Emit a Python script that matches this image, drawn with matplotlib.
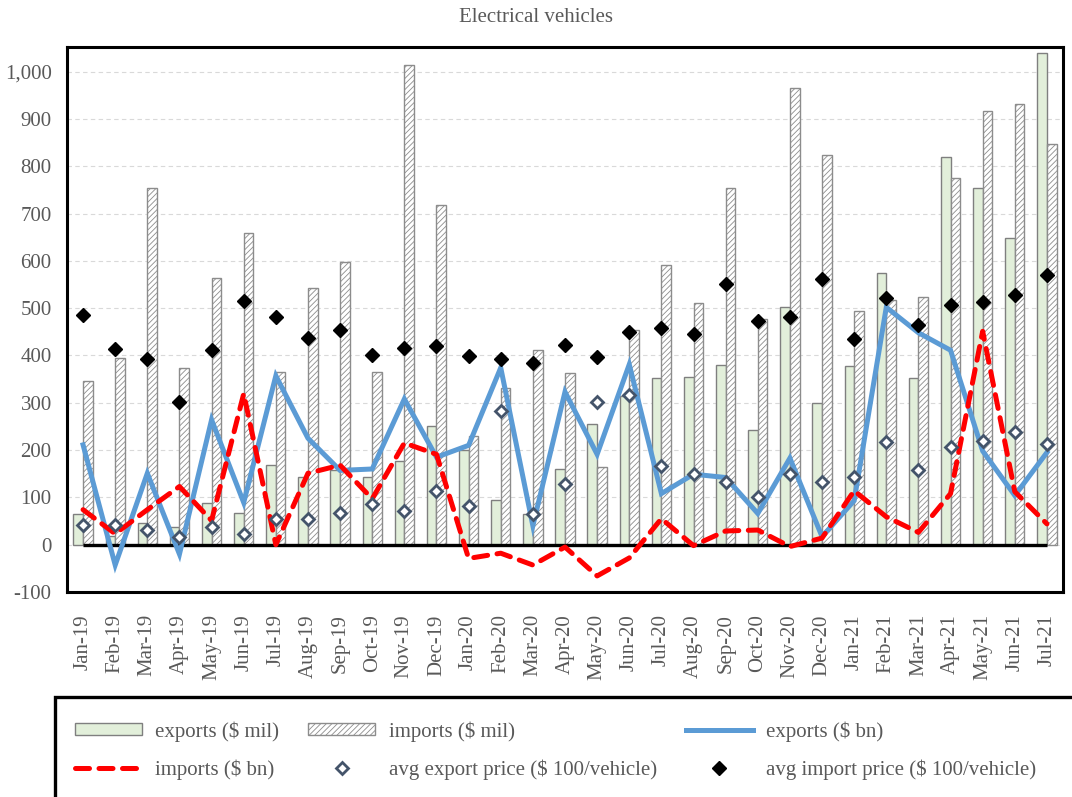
import matplotlib
matplotlib.use("Agg")
import matplotlib.pyplot as plt
import numpy as np
from matplotlib.lines import Line2D
from matplotlib.patches import Patch, Rectangle
from matplotlib.ticker import FuncFormatter, MultipleLocator

months = ["Jan-19", "Feb-19", "Mar-19", "Apr-19", "May-19", "Jun-19", "Jul-19", "Aug-19",
          "Sep-19", "Oct-19", "Nov-19", "Dec-19", "Jan-20", "Feb-20", "Mar-20", "Apr-20",
          "May-20", "Jun-20", "Jul-20", "Aug-20", "Sep-20", "Oct-20", "Nov-20", "Dec-20",
          "Jan-21", "Feb-21", "Mar-21", "Apr-21", "May-21", "Jun-21", "Jul-21"]

exports_mil = [64, 19, 46, 38, 88, 68, 168, 143, 157, 144, 177, 250, 200, 95, 64, 161,
               255, 315, 353, 355, 380, 242, 503, 299, 377, 574, 352, 820, 753, 648, 1040]
imports_mil = [345, 395, 753, 373, 564, 658, 366, 542, 598, 364, 1014, 718, 229, 332, 412, 362,
               165, 454, 592, 510, 753, 478, 966, 823, 495, 518, 523, 775, 917, 931, 846]
exports_bn = [211, -43, 151, -20, 264, 89, 357, 225, 157, 160, 308, 185, 210, 374, 40, 323,
              191, 381, 108, 149, 142, 66, 183, 17, 93, 502, 448, 411, 198, 104, 195]
imports_bn = [74, 23, 74, 123, 51, 319, 0, 151, 168, 97, 215, 191, -29, -18, -43, -5,
              -66, -28, 55, -2, 29, 31, -4, 14, 114, 59, 26, 108, 451, 112, 44]
avg_export_price = [42, 42, 31, 17, 38, 23, 54, 54, 66, 87, 72, 114, 82, 282, 64, 128,
                    302, 317, 167, 149, 132, 100, 149, 133, 144, 217, 158, 206, 220, 238, 212]
avg_import_price = [486, 413, 392, 302, 412, 515, 481, 436, 454, 402, 415, 419, 398, 392, 385, 423,
                    396, 450, 457, 446, 550, 472, 481, 562, 435, 521, 465, 507, 512, 528, 571]

FONT = "Liberation Serif"
TXT = "#595959"
plt.rcParams["font.family"] = [FONT, "DejaVu Serif"]
plt.rcParams["hatch.linewidth"] = 0.6

fig = plt.figure(figsize=(10.72, 7.97), dpi=100)
ax = fig.add_axes([67 / 1072, 1 - 592 / 797, (1063 - 67) / 1072, (592 - 47) / 797])

x = np.arange(len(months))
bw = 0.3

ax.bar(x - bw / 2, exports_mil, width=bw, color="#e2efda", edgecolor="#7f7f7f",
       linewidth=1.0, zorder=2)
ax.bar(x + bw / 2, imports_mil, width=bw, color="white", edgecolor="#8c8c8c",
       hatch="//////", linewidth=1.0, zorder=2)

ax.plot([x[0], x[-1]], [0, 0], color="black", lw=2.4, zorder=3, solid_capstyle="butt")

ax.plot(x, exports_bn, color="#5b9bd5", lw=3.6, zorder=4, solid_joinstyle="miter")
ax.plot(x, imports_bn, color="#ff0000", lw=3.6, zorder=4, dashes=(2.8, 1.9),
        dash_capstyle="round")

ax.plot(x, avg_export_price, linestyle="none", marker="D", ms=6.5, mfc="white",
        mec="#44546a", mew=2.0, zorder=5)
ax.plot(x, avg_import_price, linestyle="none", marker="D", ms=6.8, mfc="black",
        mec="black", mew=1.0, zorder=5)

ax.set_xlim(-0.5, len(months) - 0.5)
ax.set_ylim(-100, 1052)
ax.yaxis.set_major_locator(MultipleLocator(100))
ax.yaxis.set_major_formatter(FuncFormatter(lambda v, p: f"{v:,.0f}"))
ax.grid(axis="y", color="#d9d9d9", lw=0.8, linestyle=(0, (4, 3)), zorder=0)
ax.set_axisbelow(True)
ax.set_xticks(x)
ax.set_xticklabels(months, rotation=90)
ax.tick_params(axis="both", length=0, labelsize=15, labelcolor=TXT)
ax.tick_params(axis="y", pad=11)
ax.tick_params(axis="x", pad=16)
for s in ax.spines.values():
    s.set_linewidth(2.2)
    s.set_color("black")

fig.text(0.5, 1 - 18 / 797, "Electrical vehicles", ha="center", va="center",
         fontsize=15, color=TXT)

# legend
h_exp_mil = Patch(facecolor="#e2efda", edgecolor="#7f7f7f", lw=1.0)
h_imp_mil = Patch(facecolor="white", edgecolor="#8c8c8c", hatch="//////", lw=1.0)
h_exp_bn = Line2D([], [], color="#5b9bd5", lw=3.6)
h_imp_bn = Line2D([], [], color="#ff0000", lw=3.6, dashes=(2.8, 1.9), dash_capstyle="round")
h_exp_p = Line2D([], [], linestyle="none", marker="D", ms=6.5, mfc="white", mec="#44546a", mew=2.0)
h_imp_p = Line2D([], [], linestyle="none", marker="D", ms=6.8, mfc="black", mec="black")

handles = [h_exp_mil, h_imp_bn, h_imp_mil, h_exp_p, h_exp_bn, h_imp_p]
labels = ["exports ($ mil)", "imports ($ bn)", "imports ($ mil)",
          "avg export price ($ 100/vehicle)", "exports ($ bn)",
          "avg import price ($ 100/vehicle)"]
leg = fig.legend(handles, labels, ncol=3, loc="upper left",
                 bbox_to_anchor=(75 / 1072, 1 - 721 / 797), bbox_transform=fig.transFigure,
                 frameon=False, fontsize=15, handlelength=3.2, handleheight=0.5,
                 handletextpad=0.65, columnspacing=1.4, labelspacing=0.85,
                 borderpad=0, borderaxespad=0, labelcolor=TXT)

fig.patches.append(Rectangle((55 / 1072, -0.1), 1.2, 0.1 + 100 / 797, transform=fig.transFigure,
                             fill=False, edgecolor="black", lw=2.4, clip_on=False))

fig.savefig("out.png", dpi=100)
